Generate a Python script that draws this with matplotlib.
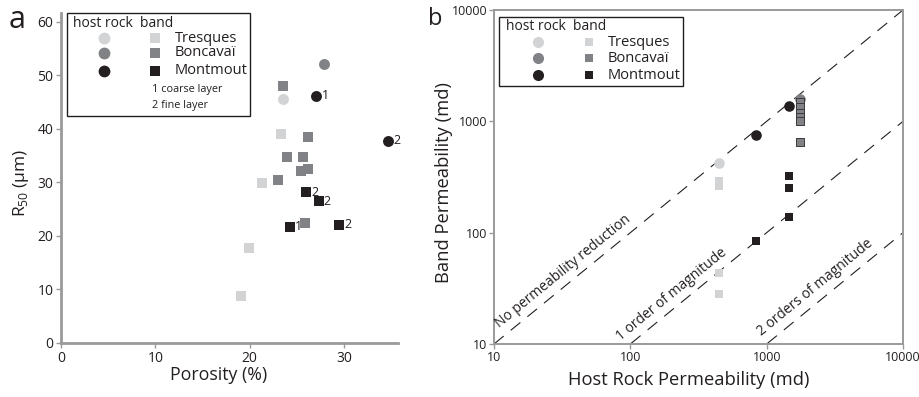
import numpy as np
import matplotlib
matplotlib.use('Agg')
import matplotlib.pyplot as plt
from matplotlib.patches import Rectangle

plt.rcParams['font.family'] = ['Open Sans', 'DejaVu Sans']
plt.rcParams['mathtext.fontset'] = 'custom'
plt.rcParams['mathtext.rm'] = 'Open Sans'
plt.rcParams['lines.scale_dashes'] = False

# Colours for the three sites
c_tres = '#d1d3d4'
c_bonc = '#808285'
c_mont = '#231f20'
txt_col = '#231f20'
spine_col = '#9a9a9a'

# ---- panel a: porosity (%) vs R50 (um)
tres_host_por = [23.5]
tres_host_r50 = [45.6]
tres_band_por = [23.3, 21.3, 19.9, 19.1]
tres_band_r50 = [39.1, 29.9, 17.8, 8.8]

bonc_host_por = [27.9]
bonc_host_r50 = [52.1]
bonc_band_por = [23.5, 26.2, 23.9, 25.6, 25.4, 26.2, 23.0, 25.8]
bonc_band_r50 = [48.0, 38.5, 34.8, 34.8, 32.1, 32.5, 30.5, 22.4]

mont_host_por = [27.0, 34.6]
mont_host_r50 = [46.2, 37.8]
mont_host_layer = ['1', '2']
mont_band_por = [26.0, 27.3, 24.3, 29.5]
mont_band_r50 = [28.2, 26.5, 21.7, 22.1]
mont_band_layer = ['2', '2', '1', '2']

# ---- panel b: host rock permeability vs band permeability (md)
tres_host_k = [450]
tres_host_kb = [420]
tres_band_k = [450, 450, 450, 450]
tres_band_kb = [290, 262, 43, 28]

bonc_host_k = [1760]
bonc_host_kb = [1580]
bonc_band_k = [1760, 1760, 1760, 1760, 1760, 1760]
bonc_band_kb = [1480, 1340, 1200, 1090, 1000, 650]

mont_host_k = [1460, 830]
mont_host_kb = [1360, 750]
mont_band_k = [1460, 1460, 1460, 830]
mont_band_kb = [320, 250, 138, 84]

# reference lines: band = host / ratio
line_host = [10, 10000]
ratios = [1, 10, 100]
line_labels = ['No permeability reduction', '1 order of magnitude', '2 orders of magnitude']

sites = ['Tresques', 'Boncavaï', 'Montmout']
site_cols = [c_tres, c_bonc, c_mont]

fig = plt.figure(figsize=(9.19, 3.97), dpi=100)
axa = fig.add_axes([61/919, 1-343/397, 337/919, 330.3/397])
axb = fig.add_axes([494/919, 1-344/397, 409/919, 334/397])


def draw_key(ax, box, head, cx, sx, nx, rows, fs, ms_c, ms_s, notes=None):
    # hand-made key: header, circle column, square column, names
    ax.add_patch(Rectangle((box[0], box[1]), box[2]-box[0], box[3]-box[1],
                           transform=ax.transAxes, facecolor='white',
                           edgecolor=txt_col, lw=1.0, clip_on=False, zorder=6))
    ax.text(head[0], head[1], 'host rock  band', transform=ax.transAxes,
            fontsize=10, color=txt_col, va='center', ha='left', zorder=7)
    for y, name, col in zip(rows, sites, site_cols):
        ax.plot([cx], [y], 'o', color=col, ms=ms_c, mew=0, transform=ax.transAxes,
                clip_on=False, zorder=7)
        ax.plot([sx], [y], 's', color=col, ms=ms_s, mew=0, transform=ax.transAxes,
                clip_on=False, zorder=7)
        ax.text(nx, y, name, transform=ax.transAxes, fontsize=fs, color=txt_col,
                va='center', ha='left', zorder=7)
    if notes:
        for x, y, t in notes:
            ax.text(x, y, t, transform=ax.transAxes, fontsize=7.8, color=txt_col,
                    va='center', ha='left', zorder=7)


# ---------------- panel a
sa_c, sa_s = 62, 44
axa.scatter(tres_band_por, tres_band_r50, marker='s', s=sa_s, color=c_tres, lw=0, zorder=3)
axa.scatter(bonc_band_por, bonc_band_r50, marker='s', s=sa_s, color=c_bonc, lw=0, zorder=3)
axa.scatter(mont_band_por, mont_band_r50, marker='s', s=sa_s, color=c_mont, lw=0, zorder=3)
axa.scatter(tres_host_por, tres_host_r50, marker='o', s=sa_c, color=c_tres, lw=0, zorder=3)
axa.scatter(bonc_host_por, bonc_host_r50, marker='o', s=sa_c, color=c_bonc, lw=0, zorder=3)
axa.scatter(mont_host_por, mont_host_r50, marker='o', s=sa_c, color=c_mont, lw=0, zorder=3)
for x, y, t in zip(mont_host_por, mont_host_r50, mont_host_layer):
    axa.annotate(t, (x, y), xytext=(4.5, 0), textcoords='offset points',
                 fontsize=9, color=txt_col, va='center', ha='left')
for x, y, t in zip(mont_band_por, mont_band_r50, mont_band_layer):
    axa.annotate(t, (x, y), xytext=(3.5, 0), textcoords='offset points',
                 fontsize=9, color=txt_col, va='center', ha='left')

axa.set_xlim(0, 35.7)
axa.set_ylim(0, 61.7)
axa.set_xticks([0, 10, 20, 30])
axa.set_yticks([0, 10, 20, 30, 40, 50, 60])
for s in ['top', 'right']:
    axa.spines[s].set_visible(False)
for s in ['left', 'bottom']:
    axa.spines[s].set_color(spine_col)
    axa.spines[s].set_linewidth(2.0)
axa.tick_params(direction='out', length=3.5, width=1.0, color=spine_col,
                labelsize=10, labelcolor=txt_col, pad=2)
axa.set_xlabel('Porosity (%)', fontsize=12.8, color=txt_col)
axa.xaxis.set_label_coords(0.469, -0.097)
axa.xaxis.label.set_va('center')
axa.set_ylabel('R$_{50}$ (µm)', fontsize=12.5, color=txt_col)
axa.yaxis.set_label_coords(-0.119, 0.484)
axa.yaxis.label.set_va('center')

draw_key(axa, box=(0.0178, 0.6863, 0.5608, 1.0), head=(0.0356, 0.9688),
         cx=0.1276, sx=0.2789, nx=0.3383, rows=[0.9234, 0.878, 0.8235],
         fs=10.5, ms_c=8.5, ms_s=6.8,
         notes=[(0.27, 0.766, '1 coarse layer'), (0.27, 0.7205, '2 fine layer')])

# ---------------- panel b
sb_c, sb_s = 58, 38
axb.set_xscale('log')
axb.set_yscale('log')
axb.set_xlim(10, 10000)
axb.set_ylim(10, 10000)

for r in ratios:
    axb.plot(line_host, [h / r for h in line_host], color=c_mont, lw=0.8,
             dashes=(9, 6.5), zorder=2)

axb.scatter(tres_host_k, tres_host_kb, marker='o', s=sb_c, color=c_tres, lw=0, zorder=3)
axb.scatter(bonc_host_k, bonc_host_kb, marker='o', s=sb_c, color=c_bonc, lw=0, zorder=3)
axb.scatter(mont_host_k, mont_host_kb, marker='o', s=sb_c, color=c_mont, lw=0, zorder=3)
axb.scatter(tres_band_k, tres_band_kb, marker='s', s=sb_s, color=c_tres, lw=0, zorder=4)
axb.scatter(bonc_band_k, bonc_band_kb, marker='s', s=sb_s, color=c_bonc,
            edgecolor='#3a3a3a', lw=0.7, zorder=4)
axb.scatter(mont_band_k, mont_band_kb, marker='s', s=sb_s, color=c_mont, lw=0, zorder=4)

# labels along the dashed lines
p1 = axb.transData.transform((10, 10))
p2 = axb.transData.transform((10000, 10000))
ang = np.degrees(np.arctan2(p2[1] - p1[1], p2[0] - p1[0]))
ca, sa = np.cos(np.radians(ang)), np.sin(np.radians(ang))
anchors = [(10, 14), (100, -6), (1000, 1)]
perp = 9
for r, t, (x0, along) in zip(ratios, line_labels, anchors):
    dx = along * ca - perp * sa
    dy = along * sa + perp * ca
    axb.annotate(t, (x0, x0 / r), xytext=(dx, dy), textcoords='offset pixels',
                 rotation=ang, rotation_mode='anchor', ha='left', va='baseline',
                 fontsize=10, color=txt_col, annotation_clip=False)

ticks_b = [10, 100, 1000, 10000]
axb.set_xticks(ticks_b)
axb.set_xticklabels([str(t) for t in ticks_b])
axb.set_yticks(ticks_b)
axb.set_yticklabels([str(t) for t in ticks_b])
axb.minorticks_off()
for s in axb.spines.values():
    s.set_color(spine_col)
    s.set_linewidth(1.4)
axb.tick_params(direction='out', length=3.5, width=1.0, color=spine_col,
                labelsize=9, labelcolor=txt_col, pad=1.5)
axb.set_xlabel('Host Rock Permeability (md)', fontsize=13.2, color=txt_col)
axb.xaxis.set_label_coords(0.4755, -0.108)
axb.xaxis.label.set_va('center')
axb.set_ylabel('Band Permeability (md)', fontsize=13.2, color=txt_col)
axb.yaxis.set_label_coords(-0.122, 0.482)
axb.yaxis.label.set_va('center')

draw_key(axb, box=(0.0122, 0.7725, 0.4621, 0.979), head=(0.0293, 0.952),
         cx=0.1076, sx=0.2323, nx=0.2787, rows=[0.904, 0.856, 0.805],
         fs=10.5, ms_c=8.0, ms_s=6.3)

fig.text(9/919, 1-28/397, 'a', fontsize=22, color=txt_col, va='baseline', ha='left')
fig.text(428/919, 1-25/397, 'b', fontsize=17, color=txt_col, va='baseline', ha='left')

fig.savefig('out.png', dpi=100)
